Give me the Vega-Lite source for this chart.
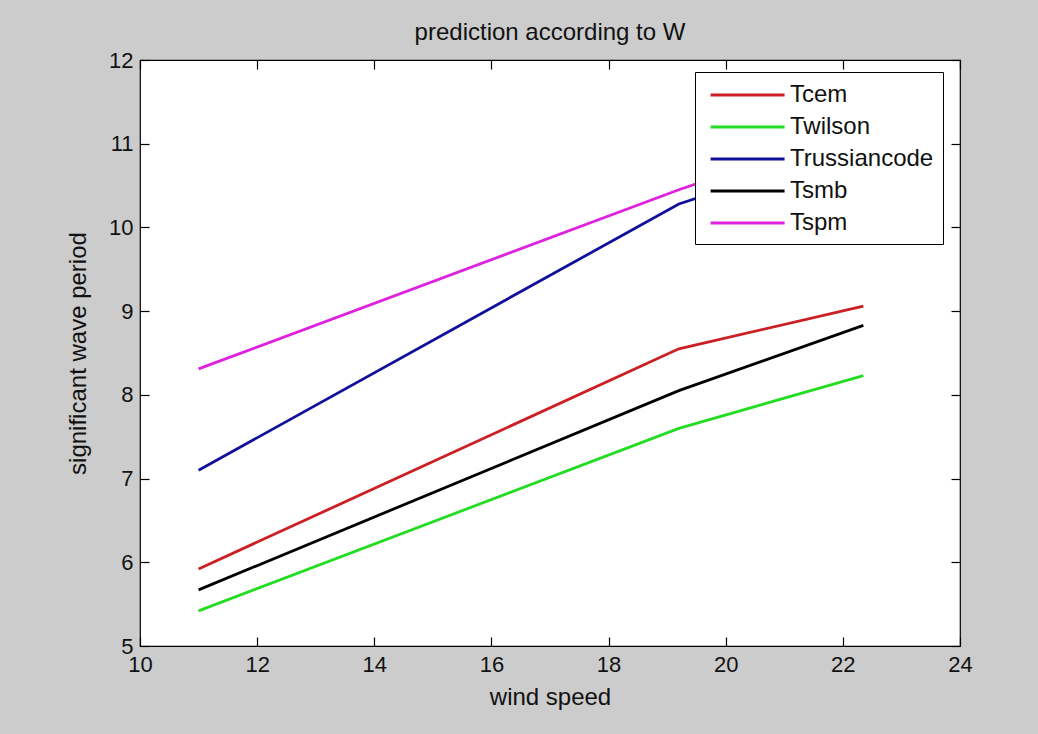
{
  "$schema": "https://vega.github.io/schema/vega-lite/v6.json",
  "autosize": {"type": "none"},
  "width": 820,
  "height": 586,
  "padding": {"left": 140, "top": 60, "right": 78, "bottom": 88},
  "background": "#cccccc",
  "title": {"text": "prediction according to W", "fontSize": 24, "font": "Liberation Sans", "fontWeight": "normal", "color": "#111111", "baseline": "alphabetic", "offset": -15, "anchor": "middle", "frame": "group"},
  "config": {
    "view": {"stroke": "#000000", "strokeWidth": 1.2, "fill": "#ffffff"},
    "font": "Liberation Sans",
    "axis": {"grid": false, "domain": false, "labelFlush": false, "tickColor": "#000000", "tickSize": -9, "tickWidth": 1.2, "labelFont": "Liberation Sans", "labelFontSize": 22, "labelColor": "#111111", "titleFont": "Liberation Sans", "titleFontSize": 24, "titleFontWeight": "normal", "titleColor": "#111111"}
  },
  "data": {"values": [
    {"series": "Tcem", "wind": 11, "T": 5.92},
    {"series": "Tcem", "wind": 19.2, "T": 8.55},
    {"series": "Tcem", "wind": 22.35, "T": 9.06},
    {"series": "Twilson", "wind": 11, "T": 5.42},
    {"series": "Twilson", "wind": 19.2, "T": 7.6},
    {"series": "Twilson", "wind": 22.35, "T": 8.23},
    {"series": "Trussiancode", "wind": 11, "T": 7.1},
    {"series": "Trussiancode", "wind": 19.2, "T": 10.28},
    {"series": "Trussiancode", "wind": 22.35, "T": 11.0},
    {"series": "Tsmb", "wind": 11, "T": 5.67},
    {"series": "Tsmb", "wind": 19.2, "T": 8.05},
    {"series": "Tsmb", "wind": 22.35, "T": 8.83},
    {"series": "Tspm", "wind": 11, "T": 8.31},
    {"series": "Tspm", "wind": 19.2, "T": 10.45},
    {"series": "Tspm", "wind": 22.35, "T": 11.2}
  ]},
  "layer": [
    {
      "mark": {"type": "line", "strokeWidth": 2.8},
      "encoding": {
        "x": {"field": "wind", "type": "quantitative", "scale": {"domain": [10, 24], "nice": false}, "axis": {"orient": "bottom", "values": [10, 12, 14, 16, 18, 20, 22, 24], "title": "wind speed", "labelPadding": 17, "titlePadding": 10}},
        "y": {"field": "T", "type": "quantitative", "scale": {"domain": [5, 12], "nice": false, "zero": false}, "axis": {"orient": "left", "values": [5, 6, 7, 8, 9, 10, 11, 12], "title": "significant wave period", "labelPadding": 16, "titlePadding": 18}},
        "color": {"field": "series", "type": "nominal", "sort": null,
          "scale": {"domain": ["Tcem", "Twilson", "Trussiancode", "Tsmb", "Tspm"], "range": ["#cc1f24", "#22dd22", "#10109c", "#000000", "#e020e0"]},
          "legend": {"title": null, "orient": "none", "legendX": 555, "legendY": 12, "symbolType": "M-0.6,0H5.4", "symbolSize": 608, "symbolStrokeWidth": 3, "symbolFillColor": "transparent", "labelFontSize": 24, "labelFont": "Liberation Sans", "labelColor": "#111111", "labelOffset": 58, "rowPadding": 6, "padding": 9, "fillColor": "#ffffff", "strokeColor": "#000000", "labelLimit": 300}
        }
      }
    },
    {
      "mark": {"type": "point", "opacity": 0},
      "encoding": {
        "x": {"field": "wind", "type": "quantitative", "scale": {"domain": [10, 24], "nice": false}, "axis": {"orient": "top", "values": [10, 12, 14, 16, 18, 20, 22, 24], "labels": false, "title": null}},
        "y": {"field": "T", "type": "quantitative", "scale": {"domain": [5, 12], "nice": false, "zero": false}, "axis": {"orient": "right", "values": [5, 6, 7, 8, 9, 10, 11, 12], "labels": false, "title": null}}
      }
    }
  ],
  "resolve": {"axis": {"x": "independent", "y": "independent"}}
}
